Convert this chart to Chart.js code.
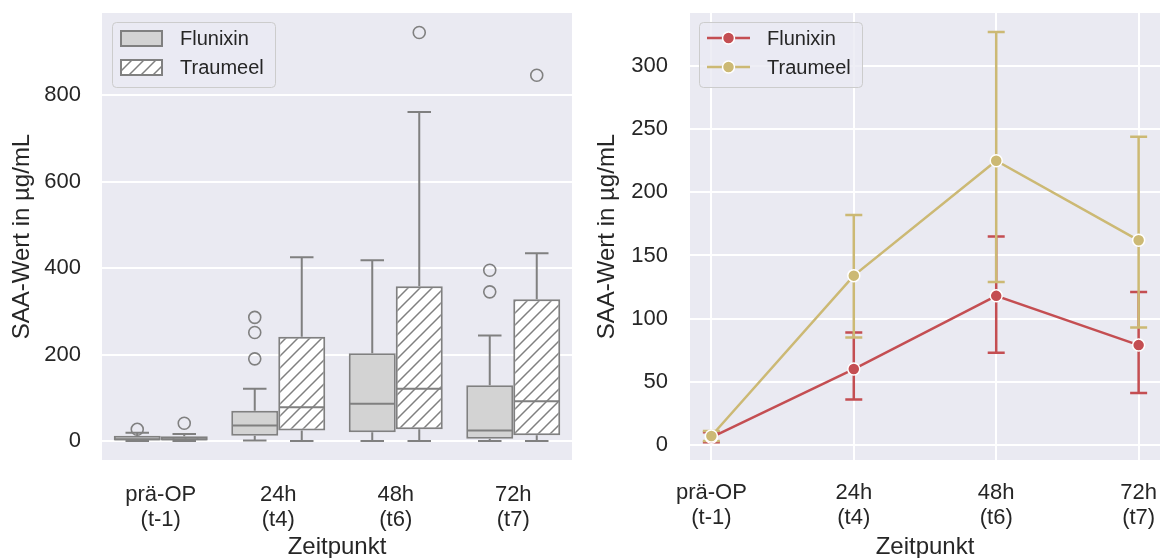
<!DOCTYPE html>
<html>
<head>
<meta charset="utf-8">
<script src="https://cdn.jsdelivr.net/npm/chart.js@4"></script>
<style>
  body { margin: 0; background: #fff; }
  #wrap { position: relative; width: 1161px; height: 558px; }
  canvas { position: absolute; top: 0; }
</style>
</head>
<body>
<div id="wrap">
  <canvas id="boxChart" width="580" height="558" style="left:0"></canvas>
  <canvas id="lineChart" width="581" height="558" style="left:580px"></canvas>
</div>
<script>
// categories / tick labels
const categories = [['prä-OP', '(t-1)'], ['24h', '(t4)'], ['48h', '(t6)'], ['72h', '(t7)']];
const yTicksBox = [0, 200, 400, 600, 800];
const yTicksLine = [0, 50, 100, 150, 200, 250, 300];

// box plot values (left)
const flunixinQ1 = [1, 12, 20, 5];
const flunixinMedian = [4, 36, 86, 24];
const flunixinQ3 = [12, 70, 203, 129];
const flunixinWhiskLow = [0, 1, 0, 0];
const flunixinWhiskHigh = [19, 121, 418, 244];
const flunixinOutliers = [[27], [190, 251, 286], [], [345, 395]];

const traumeelQ1 = [1, 24, 27, 13];
const traumeelMedian = [4, 78, 121, 92];
const traumeelQ3 = [11, 241, 358, 328];
const traumeelWhiskLow = [0, 0, 0, 0];
const traumeelWhiskHigh = [16, 425, 761, 434];
const traumeelOutliers = [[41], [], [945], [846]];

// mean + error bars (right)
const flunixinMean = [6, 60, 118, 79];
const flunixinLow = [2, 36, 73, 41];
const flunixinHigh = [10, 89, 165, 121];
const traumeelMean = [7, 134, 225, 162];
const traumeelLow = [3, 85, 129, 93];
const traumeelHigh = [11, 182, 327, 244];

const FONT = '"Liberation Sans", Arial, sans-serif';
const TXT = '#262626';
const GRAY = '#808080';
const RED = '#c44e52';
const YEL = '#ccb974';
const BG = '#eaeaf2';

function makeHatch() {
  const c = document.createElement('canvas');
  c.width = 12; c.height = 12;
  const g = c.getContext('2d');
  g.fillStyle = '#fff';
  g.fillRect(0, 0, 12, 12);
  g.strokeStyle = GRAY;
  g.lineWidth = 1.5;
  g.beginPath();
  g.moveTo(-1, 13); g.lineTo(13, -1);
  g.moveTo(-7, 7); g.lineTo(7, -7);
  g.moveTo(5, 19); g.lineTo(19, 5);
  g.stroke();
  return g.createPattern(c, 'repeat');
}
const hatch = makeHatch();

const bgPlugin = {
  id: 'bg',
  beforeDraw(chart) {
    const a = chart.chartArea, ctx = chart.ctx;
    ctx.save();
    ctx.fillStyle = BG;
    ctx.fillRect(a.left, a.top, a.right - a.left, a.bottom - a.top);
    ctx.restore();
  }
};

const boxStats = [
  { med: flunixinMedian, lo: flunixinWhiskLow, hi: flunixinWhiskHigh, q1: flunixinQ1, q3: flunixinQ3, out: flunixinOutliers },
  { med: traumeelMedian, lo: traumeelWhiskLow, hi: traumeelWhiskHigh, q1: traumeelQ1, q3: traumeelQ3, out: traumeelOutliers }
];

// whiskers, caps, medians and fliers on top of the floating bars
const boxPlugin = {
  id: 'boxes',
  afterDatasetsDraw(chart) {
    const ctx = chart.ctx, y = chart.scales.y;
    ctx.save();
    ctx.strokeStyle = GRAY;
    boxStats.forEach((s, d) => {
      chart.getDatasetMeta(d).data.forEach((el, i) => {
        const x = el.x, w = el.width;
        const pHi = y.getPixelForValue(s.hi[i]), pLo = y.getPixelForValue(s.lo[i]);
        const pMed = y.getPixelForValue(s.med[i]);
        ctx.lineWidth = 2;
        ctx.beginPath();
        ctx.moveTo(x, y.getPixelForValue(s.q3[i])); ctx.lineTo(x, pHi);
        ctx.moveTo(x, y.getPixelForValue(s.q1[i])); ctx.lineTo(x, pLo);
        ctx.moveTo(x - w / 4, pHi); ctx.lineTo(x + w / 4, pHi);
        ctx.moveTo(x - w / 4, pLo); ctx.lineTo(x + w / 4, pLo);
        ctx.moveTo(x - w / 2 + 1, pMed); ctx.lineTo(x + w / 2 - 1, pMed);
        ctx.stroke();
        ctx.lineWidth = 1.6;
        s.out[i].forEach(v => {
          ctx.beginPath();
          ctx.arc(x, y.getPixelForValue(v), 6, 0, Math.PI * 2);
          ctx.stroke();
        });
      });
    });
    ctx.restore();
  }
};

function roundRect(ctx, x, y, w, h, r) {
  ctx.beginPath();
  ctx.moveTo(x + r, y);
  ctx.arcTo(x + w, y, x + w, y + h, r);
  ctx.arcTo(x + w, y + h, x, y + h, r);
  ctx.arcTo(x, y + h, x, y, r);
  ctx.arcTo(x, y, x + w, y, r);
  ctx.closePath();
}

function legendFrame(ctx, x, y, w, h) {
  roundRect(ctx, x + 0.5, y + 0.5, w, h, 4);
  ctx.fillStyle = 'rgba(234,234,242,0.8)';
  ctx.fill();
  ctx.strokeStyle = '#cccccc';
  ctx.lineWidth = 1;
  ctx.stroke();
}

const boxLegend = {
  id: 'boxLegend',
  afterDraw(chart) {
    const ctx = chart.ctx;
    ctx.save();
    legendFrame(ctx, 112, 22, 163, 65);
    const names = chart.data.datasets.map(d => d.label);
    const fills = ['#d3d3d3', hatch];
    [38, 67].forEach((cy, k) => {
      ctx.fillStyle = fills[k];
      ctx.fillRect(121, cy - 7, 41, 15);
      ctx.strokeStyle = GRAY;
      ctx.lineWidth = 2;
      ctx.strokeRect(121, cy - 7, 41, 15);
      ctx.fillStyle = TXT;
      ctx.font = '20px ' + FONT;
      ctx.textBaseline = 'middle';
      ctx.fillText(names[k], 180, cy + 1);
    });
    ctx.restore();
  }
};

const errBars = [
  { lo: flunixinLow, hi: flunixinHigh, color: RED },
  { lo: traumeelLow, hi: traumeelHigh, color: YEL }
];

const errPlugin = {
  id: 'err',
  beforeDatasetsDraw(chart) {
    const ctx = chart.ctx, xs = chart.scales.x, ys = chart.scales.y;
    ctx.save();
    ctx.lineWidth = 2.5;
    errBars.forEach(e => {
      ctx.strokeStyle = e.color;
      e.lo.forEach((lo, i) => {
        const x = xs.getPixelForValue(i);
        const y1 = ys.getPixelForValue(lo), y2 = ys.getPixelForValue(e.hi[i]);
        ctx.beginPath();
        ctx.moveTo(x, y1); ctx.lineTo(x, y2);
        ctx.moveTo(x - 8.5, y1); ctx.lineTo(x + 8.5, y1);
        ctx.moveTo(x - 8.5, y2); ctx.lineTo(x + 8.5, y2);
        ctx.stroke();
      });
    });
    ctx.restore();
  }
};

const lineLegend = {
  id: 'lineLegend',
  afterDraw(chart) {
    const ctx = chart.ctx;
    ctx.save();
    legendFrame(ctx, 119, 22, 163, 65);
    chart.data.datasets.forEach((d, k) => {
      const cy = [38, 67][k];
      ctx.strokeStyle = d.borderColor;
      ctx.lineWidth = 2.5;
      ctx.beginPath(); ctx.moveTo(127, cy); ctx.lineTo(170, cy); ctx.stroke();
      ctx.beginPath(); ctx.arc(148.5, cy, 6, 0, Math.PI * 2);
      ctx.fillStyle = d.borderColor; ctx.fill();
      ctx.strokeStyle = '#fff'; ctx.lineWidth = 1.5; ctx.stroke();
      ctx.fillStyle = TXT;
      ctx.font = '20px ' + FONT;
      ctx.textBaseline = 'middle';
      ctx.fillText(d.label, 187, cy + 1);
    });
    ctx.restore();
  }
};

const tickFont = { family: FONT, size: 22, lineHeight: 1.15 };
const titleFont = { family: FONT, size: 24, lineHeight: 1.1 };
const xTitle = { display: true, text: 'Zeitpunkt', font: titleFont, color: TXT, padding: { top: 0, bottom: -3 } };

function fixX(s) { s.height = 98; s.paddingLeft = 0; s.paddingRight = 0; }

new Chart(document.getElementById('boxChart'), {
  type: 'bar',
  data: {
    labels: categories,
    datasets: [
      { label: 'Flunixin', data: flunixinQ1.map((q, i) => [q, flunixinQ3[i]]), backgroundColor: '#d3d3d3' },
      { label: 'Traumeel', data: traumeelQ1.map((q, i) => [q, traumeelQ3[i]]), backgroundColor: hatch }
    ].map(d => Object.assign(d, { borderColor: GRAY, borderWidth: 2, borderSkipped: false, categoryPercentage: 0.8, barPercentage: 1 }))
  },
  options: {
    responsive: false,
    animation: false,
    layout: { autoPadding: false, padding: { top: 13, right: 8, left: 0, bottom: 0 } },
    plugins: { legend: { display: false }, tooltip: { enabled: false } },
    scales: {
      x: {
        grid: { display: false },
        border: { display: false },
        ticks: { font: tickFont, color: TXT, padding: 14, maxRotation: 0 },
        title: xTitle,
        afterFit: fixX
      },
      y: {
        min: -44, max: 990,
        afterBuildTicks(s) { s.ticks = yTicksBox.map(v => ({ value: v })); },
        grid: { color: '#ffffff', lineWidth: 2, drawTicks: false },
        border: { display: false },
        ticks: { font: tickFont, color: TXT, padding: 21 },
        title: { display: true, text: 'SAA-Wert in µg/mL', font: titleFont, color: TXT, padding: { top: 9, bottom: 0 } },
        afterFit(s) { s.width = 102; s.paddingTop = 0; s.paddingBottom = 0; }
      }
    }
  },
  plugins: [bgPlugin, boxPlugin, boxLegend]
});

new Chart(document.getElementById('lineChart'), {
  type: 'line',
  data: {
    datasets: [
      { label: 'Flunixin', data: flunixinMean.map((v, i) => ({ x: i, y: v })), borderColor: RED, pointBackgroundColor: RED, order: 1 },
      { label: 'Traumeel', data: traumeelMean.map((v, i) => ({ x: i, y: v })), borderColor: YEL, pointBackgroundColor: YEL, order: 0 }
    ].map(d => Object.assign(d, { borderWidth: 2.5, pointRadius: 6, pointBorderColor: '#fff', pointBorderWidth: 1.5, tension: 0, fill: false }))
  },
  options: {
    responsive: false,
    animation: false,
    layout: { autoPadding: false, padding: { top: 13, right: 1, left: 0, bottom: 0 } },
    plugins: { legend: { display: false }, tooltip: { enabled: false } },
    scales: {
      x: {
        type: 'linear', min: -0.15, max: 3.15,
        afterBuildTicks(s) { s.ticks = categories.map((c, i) => ({ value: i })); },
        // invisible white tick marks give the label gap without widening the label padding
        grid: { color: '#ffffff', lineWidth: 2, drawTicks: true, tickLength: 20, tickColor: '#ffffff' },
        border: { display: false },
        ticks: { font: tickFont, color: TXT, padding: 0, maxRotation: 0, callback: v => categories[v] },
        title: xTitle,
        afterFit: fixX
      },
      y: {
        min: -12, max: 342,
        afterBuildTicks(s) { s.ticks = yTicksLine.map(v => ({ value: v })); },
        grid: { color: '#ffffff', lineWidth: 2, drawTicks: false },
        border: { display: false },
        ticks: { font: tickFont, color: TXT, padding: 22 },
        title: { display: true, text: 'SAA-Wert in µg/mL', font: titleFont, color: TXT, padding: { top: 14, bottom: 0 } },
        afterFit(s) { s.width = 110; s.paddingTop = 0; s.paddingBottom = 0; }
      }
    }
  },
  plugins: [bgPlugin, errPlugin, lineLegend]
});
</script>
</body>
</html>
